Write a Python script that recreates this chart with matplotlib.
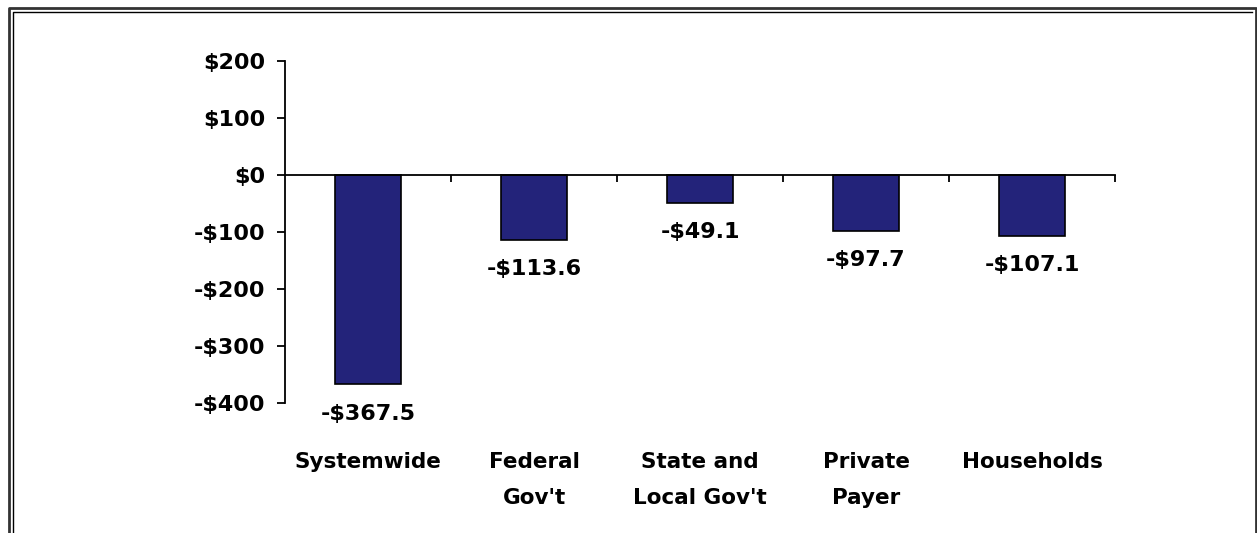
import matplotlib.pyplot as plt
from matplotlib.lines import Line2D
from matplotlib.transforms import blended_transform_factory

categories = ["Systemwide", "Federal\nGov't", "State and\nLocal Gov't", "Private\nPayer", "Households"]
values = [-367.5, -113.6, -49.1, -97.7, -107.1]
value_labels = ["-$367.5", "-$113.6", "-$49.1", "-$97.7", "-$107.1"]
yticks = [200, 100, 0, -100, -200, -300, -400]
ytick_labels = ["$200", "$100", "$0", "-$100", "-$200", "-$300", "-$400"]

W, H = 1257, 533
plt.rcParams["font.family"] = ["DejaVu Sans"]
plt.rcParams["font.weight"] = "bold"

fig = plt.figure(figsize=(W / 100, H / 100), dpi=100)
ax = fig.add_axes([285 / W, 1 - 403 / H, 830 / W, 342 / H])

x = list(range(len(categories)))
ax.bar(x, values, width=0.4, color="#23237a", edgecolor="black", linewidth=1.2, zorder=2)

for xi, v, lab in zip(x, values, value_labels):
    ax.annotate(lab, (xi, v), xytext=(0, -14), textcoords="offset points",
                ha="center", va="top", fontsize=16, fontweight="bold")

ax.set_xlim(-0.5, len(categories) - 0.5)
ax.set_ylim(-400, 200)
ax.set_yticks(yticks)
ax.set_yticklabels(ytick_labels, fontsize=16, fontweight="bold")
ax.tick_params(axis="y", length=6, width=1.3, pad=8)

# x axis sits on zero with ticks between categories
ax.spines["bottom"].set_position(("data", 0))
ax.spines["bottom"].set_linewidth(1.3)
ax.spines["left"].set_linewidth(1.3)
ax.spines["top"].set_visible(False)
ax.spines["right"].set_visible(False)
ax.set_xticks([i + 0.5 for i in range(len(categories))])
ax.set_xticklabels([])
ax.tick_params(axis="x", length=5, width=1.3, direction="out")

# category names below the plot area
trans = blended_transform_factory(ax.transData, fig.transFigure)
for xi, cat in zip(x, categories):
    ax.text(xi, 1 - 452 / H, cat, transform=trans, ha="center", va="top",
            fontsize=15.5, fontweight="bold", linespacing=2.0)

# double frame around the picture
def fline(xs, ys, lw, color):
    fig.add_artist(Line2D([v / W for v in xs], [1 - v / H for v in ys], lw=lw, color=color,
                          transform=fig.transFigure))

fline([9, 9, 1256, 1256], [H, 8, 8, H], 2.0, "#333333")
fline([13, 13, 1252], [H, 12, 12], 1.0, "black")

fig.savefig("out.png", dpi=100)
